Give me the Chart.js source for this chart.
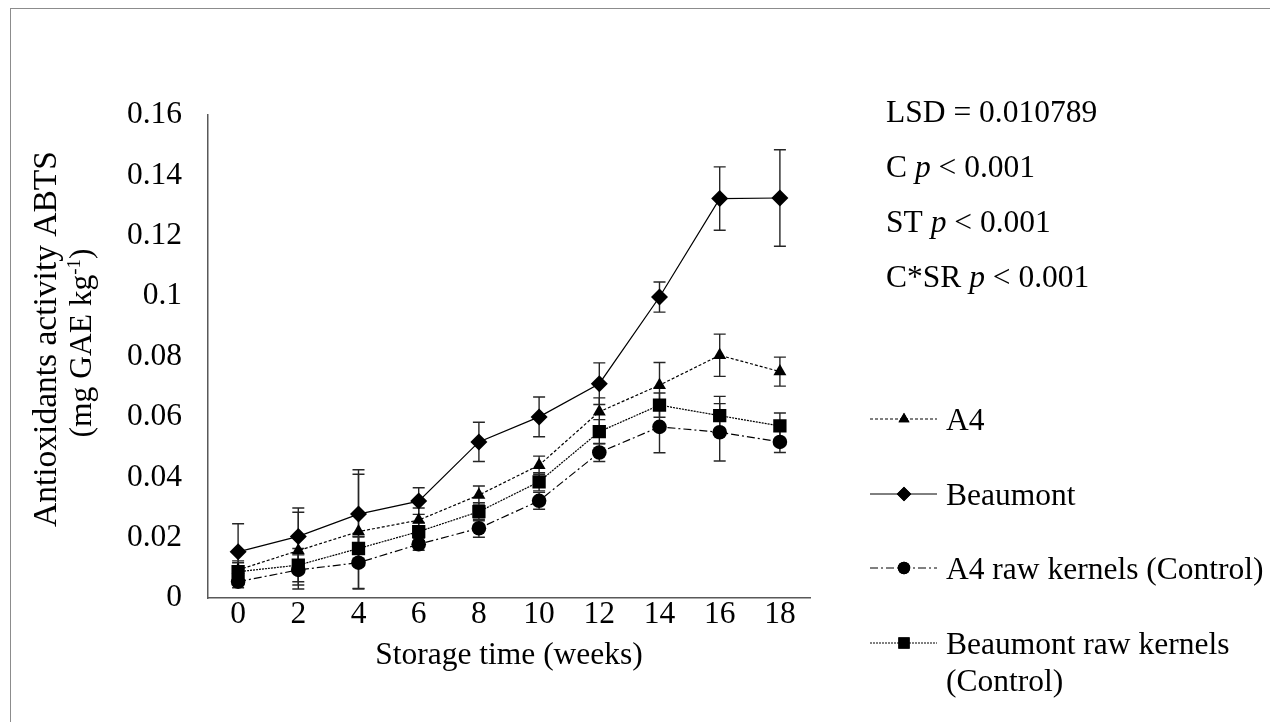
<!DOCTYPE html>
<html>
<head>
<meta charset="utf-8">
<script src="https://cdn.jsdelivr.net/npm/chart.js@4"></script>
<style>
  body { margin: 0; background: #fff; }
  #wrap { position: relative; width: 1270px; height: 722px; overflow: hidden; }
  #marco { position: absolute; left: 10px; top: 8px; width: 1270px; height: 722px; border: 1px solid #8c8c8c; box-sizing: border-box; }
  canvas { position: absolute; left: 0; top: 0; }
</style>
</head>
<body>
<div id="wrap">
  <div id="marco"></div>
  <canvas id="grafico" width="1270" height="722"></canvas>
</div>
<script>
// semanas de almacenamiento
const semanas = ["0", "2", "4", "6", "8", "10", "12", "14", "16", "18"];

// valores (mg GAE kg-1)
const a4 = [0.0093, 0.0157, 0.0220, 0.0258, 0.0341, 0.0440, 0.0617, 0.0705, 0.0804, 0.0750];
const a4Err = [0.003, 0.0127, 0.019, 0.004, 0.003, 0.003, 0.0046, 0.0075, 0.007, 0.0048];

const beaumont = [0.0153, 0.0204, 0.0278, 0.0321, 0.0517, 0.0600, 0.0710, 0.0997, 0.1323, 0.1325];
const beaumontErr = [0.0093, 0.0094, 0.0147, 0.0044, 0.0065, 0.0066, 0.0069, 0.005, 0.0105, 0.016];

const a4Crudo = [0.0054, 0.0093, 0.0117, 0.0178, 0.0231, 0.0322, 0.0482, 0.0567, 0.0549, 0.0517];
const a4CrudoErr = [0.002, 0.005, 0.0085, 0.002, 0.003, 0.0028, 0.003, 0.0086, 0.0095, 0.0035];

const beaumontCrudo = [0.0087, 0.0109, 0.0164, 0.0220, 0.0286, 0.0385, 0.0551, 0.0639, 0.0604, 0.0570];
const beaumontCrudoErr = [0.003, 0.0055, 0.004, 0.003, 0.003, 0.003, 0.004, 0.004, 0.0064, 0.0043];

const etiquetas = ["A4", "Beaumont", "A4 raw kernels (Control)", ["Beaumont raw kernels", "(Control)"]];
const estadisticas = ["LSD = 0.010789", "C _p_ < 0.001", "ST _p_ < 0.001", "C*SR _p_ < 0.001"];

const FUENTE = '"Liberation Serif", "Times New Roman", serif';
const TAM = 31.5;

const series = [
  { data: a4, err: a4Err, estilo: "triangle", radio: 7.5, guion: [3, 2], orden: 4 },
  { data: beaumont, err: beaumontErr, estilo: "rectRot", radio: 8.5, guion: [], orden: 3 },
  { data: a4Crudo, err: a4CrudoErr, estilo: "circle", radio: 7.3, guion: [8, 3, 2, 3], orden: 2 },
  { data: beaumontCrudo, err: beaumontCrudoErr, estilo: "rect", radio: 9.4, guion: [2, 1], orden: 1 }
];

// barras de error con tapas
const barrasError = {
  id: "barrasError",
  beforeDatasetsDraw(chart) {
    const ctx = chart.ctx;
    const x = chart.scales.x, y = chart.scales.y;
    ctx.save();
    ctx.strokeStyle = "#262626";
    ctx.lineWidth = 1.4;
    chart.data.datasets.forEach(ds => {
      ds.data.forEach((v, i) => {
        const e = ds.errores[i];
        const px = x.getPixelForValue(i);
        const arriba = y.getPixelForValue(v + e);
        const abajo = y.getPixelForValue(v - e);
        ctx.beginPath();
        ctx.moveTo(px, arriba); ctx.lineTo(px, abajo);
        ctx.moveTo(px - 6, arriba); ctx.lineTo(px + 6, arriba);
        ctx.moveTo(px - 6, abajo); ctx.lineTo(px + 6, abajo);
        ctx.stroke();
      });
    });
    ctx.restore();
  }
};

// titulos, leyenda y estadisticas
const textos = {
  id: "textos",
  afterDraw(chart) {
    const ctx = chart.ctx;
    const area = chart.chartArea;
    ctx.save();
    ctx.fillStyle = "#000";
    ctx.font = TAM + "px " + FUENTE;

    // titulo eje x
    ctx.textAlign = "center";
    ctx.textBaseline = "alphabetic";
    ctx.fillText("Storage time (weeks)", (area.left + area.right) / 2, 664);

    // titulo eje y (dos lineas, con superindice)
    const TY = 33.5;
    ctx.save();
    ctx.translate(47, 339);
    ctx.rotate(-Math.PI / 2);
    ctx.textBaseline = "middle";
    ctx.textAlign = "center";
    ctx.font = TY + "px " + FUENTE;
    ctx.fillText("Antioxidants activity ABTS", 0, 0);
    const a = "(mg GAE kg", sup = "-1", b = ")";
    ctx.font = TAM + "px " + FUENTE;
    const wa = ctx.measureText(a).width, wb = ctx.measureText(b).width;
    ctx.font = (TAM * 0.6) + "px " + FUENTE;
    const ws = ctx.measureText(sup).width;
    const x0 = -(wa + ws + wb) / 2 - 4;
    ctx.textAlign = "left";
    ctx.font = TAM + "px " + FUENTE;
    ctx.fillText(a, x0, 36);
    ctx.font = (TAM * 0.6) + "px " + FUENTE;
    ctx.fillText(sup, x0 + wa, 36 - 8);
    ctx.font = TAM + "px " + FUENTE;
    ctx.fillText(b, x0 + wa + ws, 36);
    ctx.restore();

    // estadisticas
    ctx.textAlign = "left";
    ctx.textBaseline = "alphabetic";
    estadisticas.forEach((t, i) => {
      const yb = 122 + i * 55;
      const partes = t.split("_p_");
      let xx = 886;
      ctx.font = TAM + "px " + FUENTE;
      ctx.fillText(partes[0], xx, yb);
      xx += ctx.measureText(partes[0]).width;
      if (partes.length > 1) {
        ctx.font = "italic " + TAM + "px " + FUENTE;
        ctx.fillText("p", xx, yb);
        xx += ctx.measureText("p").width;
        ctx.font = TAM + "px " + FUENTE;
        ctx.fillText(partes[1], xx, yb);
      }
    });

    // leyenda
    const filas = [419, 494, 568, 643];
    chart.data.datasets.forEach((ds, i) => {
      const yc = filas[i];
      ctx.save();
      ctx.strokeStyle = "#000";
      ctx.lineWidth = 1;
      ctx.setLineDash(ds.borderDash);
      ctx.beginPath();
      ctx.moveTo(870, yc); ctx.lineTo(937, yc);
      ctx.stroke();
      ctx.restore();
      ctx.fillStyle = "#000";
      Chart.helpers.drawPoint(ctx, { pointStyle: ds.pointStyle, radius: ds.pointRadius * 0.85, rotation: 0, borderWidth: 0 }, 904, yc);
      ctx.fill();
      ctx.font = TAM + "px " + FUENTE;
      ctx.textAlign = "left";
      ctx.textBaseline = "alphabetic";
      const lineas = Array.isArray(etiquetas[i]) ? etiquetas[i] : [etiquetas[i]];
      lineas.forEach((l, k) => ctx.fillText(l, 946, yc + 10.5 + k * 37));
    });
    ctx.restore();
  }
};

new Chart(document.getElementById("grafico"), {
  type: "line",
  data: {
    labels: semanas,
    datasets: series.map((s, i) => ({
      label: Array.isArray(etiquetas[i]) ? etiquetas[i].join(" ") : etiquetas[i],
      data: s.data,
      errores: s.err,
      borderColor: "#000",
      backgroundColor: "#000",
      borderWidth: 1.2,
      borderDash: s.guion,
      pointStyle: s.estilo,
      pointRadius: s.radio,
      pointBackgroundColor: "#000",
      pointBorderColor: "#000",
      pointBorderWidth: 0,
      tension: 0,
      order: s.orden
    }))
  },
  options: {
    responsive: false,
    animation: false,
    devicePixelRatio: 1,
    layout: { padding: { left: 0, top: 115, right: 460, bottom: 0 } },
    plugins: { legend: { display: false }, tooltip: { enabled: false } },
    scales: {
      x: {
        offset: true,
        grid: { display: false, drawTicks: false },
        border: { display: true, color: "#595959", width: 1.5 },
        ticks: { color: "#000", font: { family: FUENTE, size: TAM }, padding: -2, maxRotation: 0 },
        afterFit: s => { s.height = 124; }
      },
      y: {
        min: 0,
        max: 0.16,
        grid: { display: false, drawTicks: false },
        border: { display: true, color: "#595959", width: 1.5 },
        ticks: {
          stepSize: 0.02,
          color: "#000",
          font: { family: FUENTE, size: TAM },
          padding: 26,
          callback: v => String(parseFloat(v.toFixed(2)))
        },
        afterFit: s => { s.width = 208; }
      }
    }
  },
  plugins: [barrasError, textos]
});
</script>
</body>
</html>
